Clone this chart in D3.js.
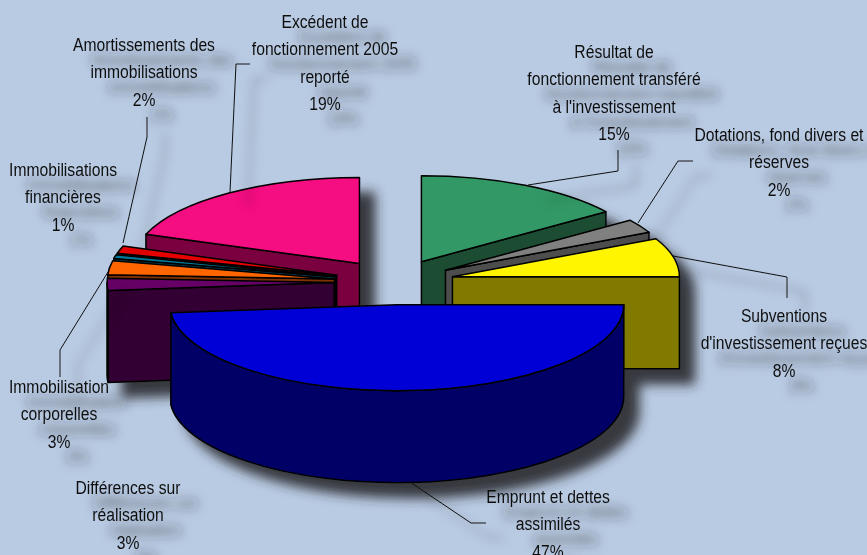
<!DOCTYPE html>
<html>
<head>
<meta charset="utf-8">
<script src="https://d3js.org/d3.v7.min.js"></script>
<style>
  html, body { margin: 0; padding: 0; background: #b9cbe3; overflow: hidden; }
  svg { display: block; }
  text { font-family: "Liberation Sans", Arial, sans-serif; font-size: 19px; fill: #111; text-anchor: middle; }
</style>
</head>
<body>
<svg id="chart" width="867" height="555"></svg>
<script>
// shares are measured off the slices, the printed percentages are in labelPercents
var categories = ["Résultat de fonctionnement transféré à l'investissement", "Dotations, fond divers et réserves",
  "Subventions d'investissement reçues", "Emprunt et dettes assimilés", "Différences sur réalisation",
  "Immobilisation corporelles", "Immobilisations financières", "Amortissements des immobilisations",
  "Excédent de fonctionnement 2005 reporté"];
var shares = [15.1, 2.6, 7.3, 48.5, 2.3, 2.6, 0.7, 1.4, 19.5];
var labelPercents = ["15%", "2%", "8%", "47%", "3%", "3%", "1%", "2%", "19%"];
var topColors = ["#339966", "#808080", "#fff500", "#0000d6", "#660066", "#ff6600", "#007a99", "#e60000", "#f50882"];
var wallColors = ["#1a4d33", "#4d4d4d", "#807a00", "#000066", "#330033", "#803300", "#003d4d", "#730000", "#7a0441"];

// wrapped label text, same order as categories
var labelLines = [
  ["Résultat de", "fonctionnement transféré", "à l'investissement"],
  ["Dotations, fond divers et", "réserves"],
  ["Subventions", "d'investissement reçues"],
  ["Emprunt et dettes", "assimilés"],
  ["Différences sur", "réalisation"],
  ["Immobilisation", "corporelles"],
  ["Immobilisations", "financières"],
  ["Amortissements des", "immobilisations"],
  ["Excédent de", "fonctionnement 2005", "reporté"]
];
var labelAnchors = [[614, 58], [779, 141], [784, 322], [548, 503], [128, 494], [59, 393], [63, 176], [144, 51], [325, 28]];
var leaders = [
  [[618, 150], [618, 171], [528, 185]],
  [[693, 161], [678, 161], [638, 223]],
  [[787, 298], [787, 277], [673, 256]],
  [[410, 482], [471, 523], [486, 523]],
  [[60, 377], [60, 350], [108, 272]],
  [[147, 117], [147, 137], [123, 243]],
  [[250, 64], [236, 64], [230, 192]]
];

var svg = d3.select("#chart");
var defs = svg.append("defs");

var pieShadow = defs.append("filter").attr("id", "pie-shadow")
  .attr("x", "-10%").attr("y", "-10%").attr("width", "125%").attr("height", "130%");
pieShadow.append("feDropShadow").attr("dx", 15).attr("dy", 15).attr("stdDeviation", 6)
  .attr("flood-color", "#26262e").attr("flood-opacity", 0.9);

var textShadow = defs.append("filter").attr("id", "text-shadow")
  .attr("x", "-20%").attr("y", "-20%").attr("width", "150%").attr("height", "150%");
textShadow.append("feDropShadow").attr("dx", 18).attr("dy", 15).attr("stdDeviation", 5.5)
  .attr("flood-color", "#26262e").attr("flood-opacity", 0.75);

var rx = 227, ry = 86, depth = 92, explode = 60;
var cx = 394, cy = 282;

var slices = d3.pie().sort(null).value(function(d) { return d; })(shares);
slices.forEach(function(s, i) {
  s.mid = (s.startAngle + s.endAngle) / 2;
  s.cx = cx + explode * Math.sin(s.mid);
  s.cy = cy - explode * (ry / rx) * Math.cos(s.mid);
  s.top = topColors[i];
  s.wall = wallColors[i];
});

function rimPoint(s, a) {
  return [s.cx + rx * Math.sin(a), s.cy - ry * Math.cos(a)];
}

// radial side of a slice, only drawn if it faces the viewer
function radialFaces(s, a) {
  var r = [Math.sin(a) * rx, -Math.cos(a) * ry];
  var m = [Math.sin(s.mid) * rx, -Math.cos(s.mid) * ry];
  return r[0] * (r[0] * m[1] - r[1] * m[0]) < 0;
}

function radialPath(s, a) {
  var p = rimPoint(s, a);
  return "M" + s.cx + "," + s.cy + "L" + p[0] + "," + p[1] + "L" + p[0] + "," + (p[1] + depth) +
    "L" + s.cx + "," + (s.cy + depth) + "Z";
}

function rimPath(s) {
  var a0 = Math.max(s.startAngle, Math.PI / 2), a1 = Math.min(s.endAngle, Math.PI * 1.5);
  if (a1 <= a0) return null;
  var p0 = rimPoint(s, a0), p1 = rimPoint(s, a1);
  return "M" + p0[0] + "," + p0[1] + "A" + rx + "," + ry + " 0 0 1 " + p1[0] + "," + p1[1] +
    "L" + p1[0] + "," + (p1[1] + depth) + "A" + rx + "," + ry + " 0 0 0 " + p0[0] + "," + (p0[1] + depth) + "Z";
}

var arc = d3.arc().innerRadius(0).outerRadius(rx);

var pie = svg.append("g").attr("filter", "url(#pie-shadow)");

// painter's order, back slices first
var ordered = slices.slice().sort(function(a, b) { return a.cy - b.cy; });

var slice = pie.selectAll("g.slice").data(ordered).enter().append("g").attr("class", "slice");

slice.each(function(s) {
  var g = d3.select(this);
  [s.startAngle, s.endAngle].forEach(function(a) {
    if (radialFaces(s, a)) {
      g.append("path").attr("d", radialPath(s, a)).attr("fill", s.wall);
    }
  });
  var rim = rimPath(s);
  if (rim) g.append("path").attr("d", rim).attr("fill", s.wall);
  g.append("path")
    .attr("d", arc(s))
    .attr("transform", "translate(" + s.cx + "," + s.cy + ") scale(1," + (ry / rx) + ")")
    .attr("fill", s.top)
    .attr("vector-effect", "non-scaling-stroke");
  g.selectAll("path").attr("stroke", "#000").attr("stroke-width", 1.5).attr("stroke-linejoin", "round");
});

var notes = svg.append("g").attr("filter", "url(#text-shadow)");

var line = d3.line();
notes.selectAll("path.leader").data(leaders).enter().append("path")
  .attr("class", "leader")
  .attr("d", line)
  .attr("fill", "none")
  .attr("stroke", "#111")
  .attr("stroke-width", 1);

labelLines.forEach(function(lines, i) {
  var t = notes.append("text")
    .attr("transform", "translate(" + labelAnchors[i][0] + "," + labelAnchors[i][1] + ") scale(0.825,1)");
  lines.concat(labelPercents[i]).forEach(function(txt, j) {
    t.append("tspan").attr("x", 0).attr("y", j * 27.4).text(txt);
  });
});
</script>
</body>
</html>
